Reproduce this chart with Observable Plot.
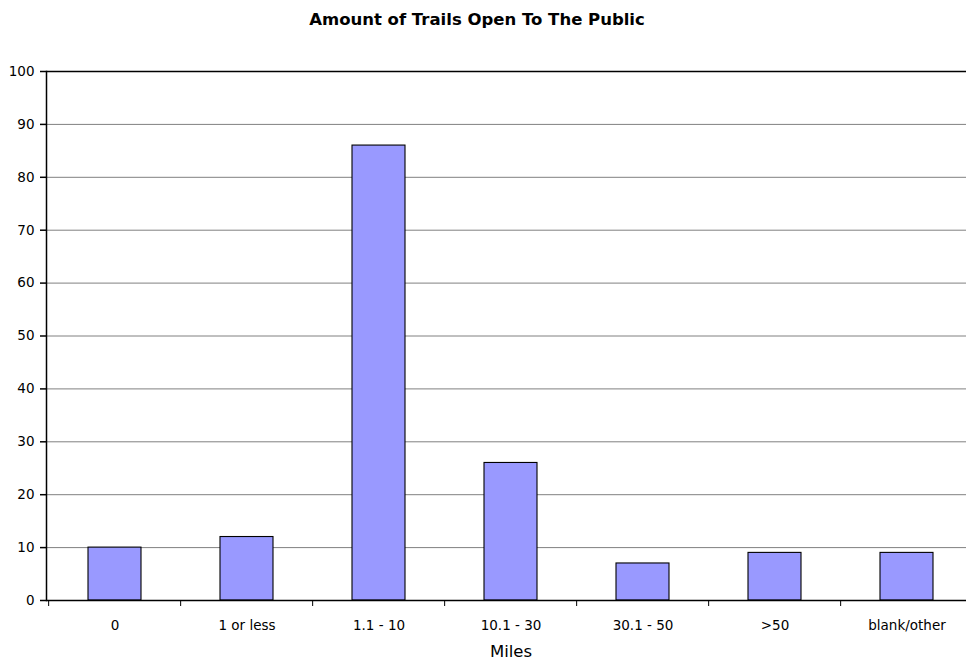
<!DOCTYPE html>
<html>
<head>
<meta charset="utf-8">
<script src="https://cdn.jsdelivr.net/npm/d3@7"></script>
<script src="https://cdn.jsdelivr.net/npm/@observablehq/plot@0.6"></script>
<style>
  html, body { margin: 0; background: #fff; }
  #title { width: 954px; height: 40px; font: bold 16.5px "DejaVu Sans", Verdana, sans-serif; line-height: 40px; text-align: center; color: #000; }
  svg { display: block; overflow: hidden; }
</style>
</head>
<body>
<div id="title">Amount of Trails Open To The Public</div>
<div id="chart"></div>
<script>
const categories = ["0", "1 or less", "1.1 - 10", "10.1 - 30", "30.1 - 50", ">50", "blank/other"];
const values = [10, 12, 86, 26, 7, 9, 9];
const yTicks = [0, 10, 20, 30, 40, 50, 60, 70, 80, 90, 100];
const xLabel = "Miles";

const data = categories.map((c, i) => ({category: c, value: values[i]}));
const W = 966, ML = 46, XEND = 975;
const step = (XEND - ML) / categories.length;

const chart = Plot.plot({
  width: W,
  height: 624,
  marginTop: 31,
  marginBottom: 64,
  marginLeft: ML,
  marginRight: 0,
  style: {fontFamily: "'DejaVu Sans', Verdana, sans-serif", fontSize: "13px", color: "#000", background: "#fff"},
  x: {domain: categories, paddingInner: 0.6, paddingOuter: 0.3, range: [ML, XEND], label: null},
  y: {domain: [0, 100], label: null},
  marks: [
    Plot.gridY(yTicks.slice(1, -1), {stroke: "#808080", strokeOpacity: 1, strokeWidth: 1}),
    Plot.ruleY([100], {stroke: "#000", strokeWidth: 1.5}),
    Plot.rectY(data, {x: "category", y: "value", fill: "#9999ff", stroke: "#000", strokeWidth: 1.1}),
    Plot.ruleY([0], {stroke: "#000", strokeWidth: 1.5}),
    Plot.axisY(yTicks, {tickSize: 6, tickPadding: 6, fontSize: 13.5, stroke: "#000", strokeWidth: 1.5}),
    Plot.frame({anchor: "left", stroke: "#000", strokeWidth: 1.5}),
    Plot.axisX(categories, {tickSize: 6, tickFormat: () => "", dx: -step / 2, stroke: "#000"}),
    Plot.axisX(categories, {tickSize: 0, tickPadding: 20, fontSize: 13.5, label: null}),
    Plot.text([xLabel], {frameAnchor: "bottom", dx: (XEND - W) / 2, dy: 56, fontSize: 16.5, text: d => d})
  ]
});
document.getElementById("chart").appendChild(chart);
</script>
</body>
</html>
